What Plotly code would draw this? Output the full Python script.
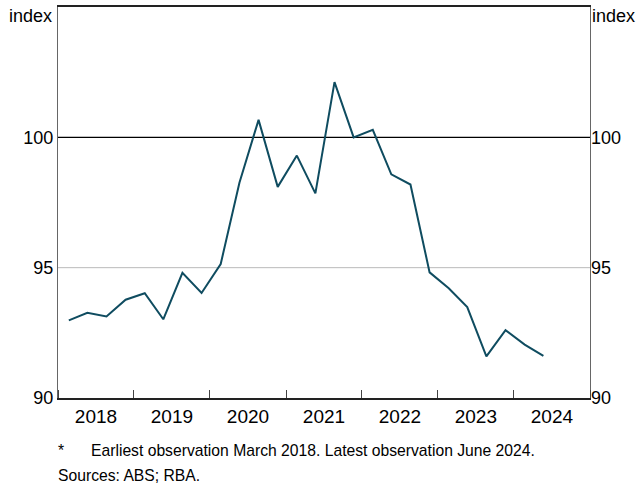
import plotly.graph_objects as go

dates = ["2018-02-22", "2018-05-22", "2018-08-22", "2018-11-22",
         "2019-02-22", "2019-05-22", "2019-08-22", "2019-11-22",
         "2020-02-22", "2020-05-22", "2020-08-22", "2020-11-22",
         "2021-02-22", "2021-05-22", "2021-08-22", "2021-11-22",
         "2022-02-22", "2022-05-22", "2022-08-22", "2022-11-22",
         "2023-02-22", "2023-05-22", "2023-08-22", "2023-11-22",
         "2024-02-22", "2024-05-22"]
values = [92.98, 93.27, 93.13, 93.77, 94.02, 93.02, 94.80, 94.03,
          95.14, 98.26, 100.67, 98.10, 99.30, 97.85, 102.12, 100.0,
          100.29, 98.58, 98.19, 94.82, 94.21, 93.49, 91.60, 92.60,
          92.05, 91.62]
y_ticks = [90, 95, 100]
y_range = [90, 105]
x_range = ["2018-01-01", "2025-01-01"]
grid_level = 95
ref_level = 100

FONT = "Liberation Sans, Arial, sans-serif"
LINE = "#0f4c60"

fig = go.Figure()
fig.add_trace(go.Scatter(x=dates, y=values, mode="lines",
                         line=dict(color=LINE, width=2), showlegend=False))
fig.add_trace(go.Scatter(x=dates, y=values, mode="lines", yaxis="y2",
                         line=dict(color=LINE, width=0), opacity=0,
                         showlegend=False, hoverinfo="skip"))

fig.add_shape(type="line", xref="paper", x0=0, x1=1, yref="y",
              y0=grid_level, y1=grid_level,
              line=dict(color="#bbbbbb", width=1), layer="below")
fig.add_shape(type="line", xref="paper", x0=0, x1=1, yref="y",
              y0=ref_level, y1=ref_level,
              line=dict(color="black", width=1.2), layer="below")

fig.update_layout(
    width=641, height=483,
    margin=dict(l=58, r=51, t=5, b=85),
    paper_bgcolor="white", plot_bgcolor="white",
    font=dict(family=FONT, size=18, color="black"),
    xaxis=dict(range=x_range, type="date", tick0="2018-01-01", dtick="M12",
               tickformat="%Y", ticklabelmode="period",
               ticks="inside", ticklen=8, tickcolor="#444", tickwidth=1,
               showgrid=False, showline=True, linecolor="#222", linewidth=1.5,
               mirror=True, zeroline=False, tickfont=dict(size=19)),
    yaxis=dict(range=y_range, tickvals=y_ticks, ticks="", showgrid=False,
               showline=True, linecolor="#666", linewidth=1, mirror=True,
               zeroline=False, tickfont=dict(size=18)),
    yaxis2=dict(range=y_range, tickvals=y_ticks, overlaying="y", side="right",
                ticks="", showgrid=False, zeroline=False, showline=False,
                tickfont=dict(size=18)),
)

fig.add_annotation(text="index", xref="paper", yref="paper", x=0, y=1,
                   xanchor="right", yanchor="top", xshift=-4, yshift=3,
                   showarrow=False, font=dict(size=18))
fig.add_annotation(text="index", xref="paper", yref="paper", x=1, y=1,
                   xanchor="left", yanchor="top", xshift=0, yshift=3,
                   showarrow=False, font=dict(size=18))
fig.add_annotation(text="*", xref="paper", yref="paper", x=0, y=0,
                   xanchor="left", yanchor="middle", xshift=-2, yshift=-52,
                   showarrow=False, font=dict(size=15.7))
fig.add_annotation(text="Earliest observation March 2018. Latest observation June 2024.",
                   xref="paper", yref="paper", x=0, y=0,
                   xanchor="left", yanchor="middle", xshift=31, yshift=-52,
                   showarrow=False, font=dict(size=15.7))
fig.add_annotation(text="Sources: ABS; RBA.", xref="paper", yref="paper", x=0, y=0,
                   xanchor="left", yanchor="middle", xshift=-2, yshift=-77,
                   showarrow=False, font=dict(size=15.7))

fig.write_html("out.html", config={"displayModeBar": False},
               post_script="document.body.style.margin='0px';")
